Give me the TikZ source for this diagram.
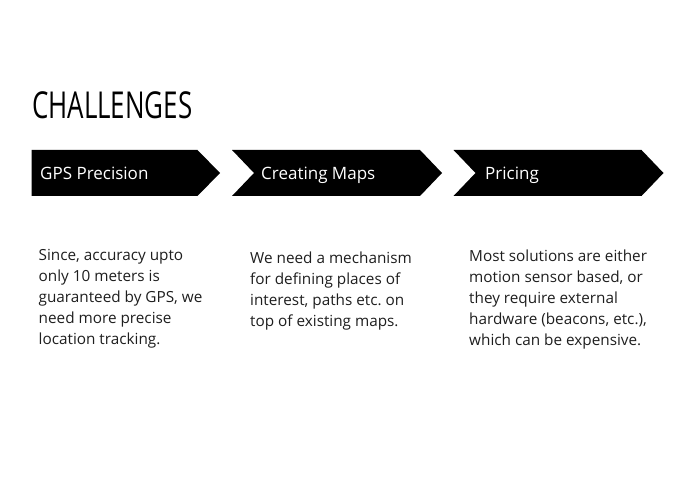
\documentclass[tikz,border=0pt]{standalone}
\usepackage{fontspec}
\setmainfont{Open Sans}
\usepackage{xcolor}
\usetikzlibrary{positioning}
\definecolor{bodytext}{HTML}{1E1E1E}
\frenchspacing

\begin{document}
\begin{tikzpicture}[x=1pt,y=-1pt,
        chevron/.style={fill=black},
        headlabel/.style={anchor=base west,inner sep=0pt,text=white,font=\fontsize{17}{21}\selectfont},
        bodylabel/.style={anchor=base west,inner sep=0pt,align=left,text=bodytext,font=\fontsize{15.3}{21}\selectfont}]
        \useasboundingbox (0,0) rectangle (695,494);
        \node[anchor=base west,inner sep=0pt] (title) at (32,119) {\scalebox{0.72}[1.03]{\fontsize{36}{36}\selectfont CHALLENGES}};
        % first arrow has a flat tail, the others are notched
        \fill[chevron] (31.5,150) -- (197.5,150) -- (220,173) -- (197.5,196) -- (31.5,196) -- cycle;
        \foreach \dx in {200.5,422} {
            \fill[chevron] (31.5+\dx,150) -- (219.5+\dx,150) -- (241.5+\dx,173) -- (219.5+\dx,196)
                -- (31.5+\dx,196) -- (53.5+\dx,173) -- cycle;
        }
        \node[headlabel] (gps) at (40,180) {GPS Precision};
        \node[headlabel] (maps) at (261,180) {Creating Maps};
        \node[headlabel] (price) at (485,180) {Pricing};
        % base anchor sits on the last line
        \node[bodylabel] (gpstext) at (38.5,344.7) {Since, accuracy upto\\only 10 meters is\\guaranteed by GPS, we\\need more precise\\location tracking.};
        \node[bodylabel] (mapstext) at (250,326.5) {We need a mechanism\\for defining places of\\interest, paths etc. on\\top of existing maps.};
        \node[bodylabel] (pricetext) at (469,345) {Most solutions are either\\motion sensor based, or\\they require external\\hardware (beacons, etc.),\\which can be expensive.};
    \end{tikzpicture}
\end{document}
